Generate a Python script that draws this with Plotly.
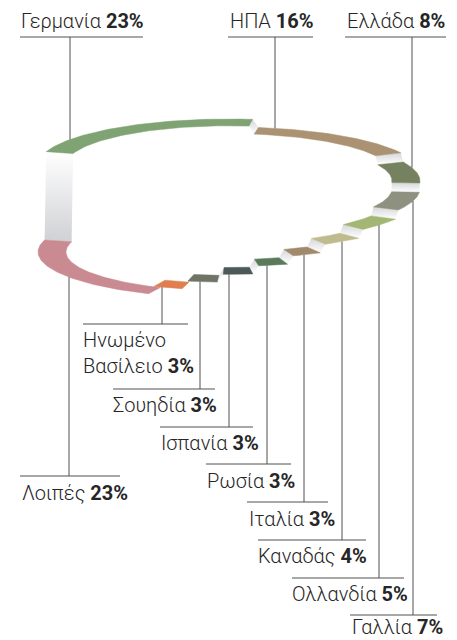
import numpy as np
import plotly.graph_objects as go

# ---------------- data ----------------
countries = ["Γερμανία", "ΗΠΑ", "Ελλάδα", "Γαλλία", "Ολλανδία", "Καναδάς",
             "Ιταλία", "Ρωσία", "Ισπανία", "Σουηδία", "Ηνωμένο Βασίλειο", "Λοιπές"]
shares = [23, 16, 8, 7, 5, 4, 3, 3, 3, 3, 3, 23]
label_names = ["Γερμανία", "ΗΠΑ", "Ελλάδα", "Γαλλία", "Ολλανδία", "Καναδάς",
               "Ιταλία", "Ρωσία", "Ισπανία", "Σουηδία", "Ηνωμένο<br>Βασίλειο", "Λοιπές"]

# ---------------- styles ----------------
colors = ["#80a373", "#ab9273", "#76825f", "#8e9080", "#a3b673", "#bfbb8f",
          "#a08a6b", "#5b7a5c", "#4b5a58", "#6f7467", "#e07e4f", "#c98a92"]

W, H = 457, 640
CX, RX, RY = 229.0, 191.0, 46.0
RX_IN = 163.0
RY_IN = RY * RX_IN / RX
LEVEL_TOP, LEVEL_BOTTOM = 165.0, 252.0
THETA0 = 164.0     # start angle (deg) of the first slice, going clockwise
GAP = 1.8          # angular gap (deg) filled by the step faces
LINE_COLOR = "#505050"
TEXT_COLOR = "#262626"
FONT = "Roboto"
FSIZE = 20

# label layout: leader x, underline x0, x1, underline y, side, text left x, text center y
label_layout = [
    (70, 20, 143, 37, "top", 19, 21),
    (275, 228, 313, 37, "top", 228, 21),
    (412, 345, 446, 37, "top", 345, 21),
    (413, 350, 437, 615, "bottom", 350, 627),
    (379, 292, 404, 578, "bottom", 290, 594),
    (342, 258, 366, 540, "bottom", 256, 556),
    (304, 247, 328, 502, "bottom", 247, 519),
    (267, 206, 291, 464, "bottom", 205, 481),
    (229, 160, 253, 427, "bottom", 159, 443),
    (200, 113, 215, 389, "bottom", 111, 405),
    (162, 83, 188, 324, "bottom", 81, 353),
    (69, 20, 120, 476, "bottom", 20, 493),
]

n = len(shares)
total = float(sum(shares))
cum = np.concatenate([[0.0], np.cumsum(shares)]) / total * 360.0
levels = np.linspace(LEVEL_TOP, LEVEL_BOTTOM, n)


def pt(theta_deg, level, outer=True):
    t = np.radians(theta_deg)
    rx, ry = (RX, RY) if outer else (RX_IN, RY_IN)
    return CX + rx * np.cos(t), level - ry * np.sin(t)


fig = go.Figure()

# step faces (risers) between consecutive slices, incl. the connector back to the top
for i in range(n):
    j = (i + 1) % n
    tb = THETA0 - cum[i + 1]
    a = tb + GAP / 2
    b = tb - GAP / 2
    p1 = pt(a, levels[i], True)
    p2 = pt(a, levels[i], False)
    p3 = pt(b, levels[j], False)
    p4 = pt(b, levels[j], True)
    xs = [p1[0], p2[0], p3[0], p4[0], p1[0]]
    ys = [p1[1], p2[1], p3[1], p4[1], p1[1]]
    if j == 0:
        cs = [[0, "#d0d1d4"], [1, "#ffffff"]]
    else:
        cs = [[0, "#ffffff"], [1, "#d6d7da"]]
    fig.add_trace(go.Scatter(
        x=xs, y=ys, mode="lines", fill="toself", line=dict(width=0),
        fillgradient=dict(type="vertical", colorscale=cs),
        hoverinfo="skip", showlegend=False))

# slices
for i in range(n):
    a = THETA0 - cum[i] - GAP / 2
    b = THETA0 - cum[i + 1] + GAP / 2
    th = np.linspace(a, b, 80)
    ox, oy = pt(th, levels[i], True)
    ix, iy = pt(th[::-1], levels[i], False)
    xs = np.concatenate([ox, ix, ox[:1]])
    ys = np.concatenate([oy, iy, oy[:1]])
    fig.add_trace(go.Scatter(
        x=xs, y=ys, mode="lines", fill="toself", fillcolor=colors[i],
        line=dict(width=0.5, color=colors[i]), hoverinfo="skip", showlegend=False,
        name=countries[i]))

# leader lines, underlines and labels
annotations = []
for i in range(n):
    lx, u0, u1, uy, side, tx, ty = label_layout[i]
    s = np.sqrt(max(0.0, 1 - ((lx - CX) / RX) ** 2))
    if side == "top":
        ey = levels[i] - RY * s
    else:
        ey = levels[i] + RY * s
    fig.add_trace(go.Scatter(x=[lx, lx], y=[uy, ey], mode="lines",
                             line=dict(color=LINE_COLOR, width=1),
                             hoverinfo="skip", showlegend=False))
    fig.add_trace(go.Scatter(x=[u0, u1], y=[uy, uy], mode="lines",
                             line=dict(color=LINE_COLOR, width=1),
                             hoverinfo="skip", showlegend=False))
    annotations.append(dict(
        x=tx, y=ty, xref="x", yref="y", xanchor="left", yanchor="middle",
        align="left", showarrow=False,
        text=f"{label_names[i]} <b>{shares[i]}%</b>",
        font=dict(family=FONT, size=FSIZE, color=TEXT_COLOR, weight=300)))

fig.update_layout(
    width=W, height=H, margin=dict(l=0, r=0, t=0, b=0),
    paper_bgcolor="white", plot_bgcolor="white",
    xaxis=dict(range=[0, W], visible=False, fixedrange=True),
    yaxis=dict(range=[H, 0], visible=False, fixedrange=True),
    annotations=annotations, showlegend=False)

fig.write_html(
    "out.html",
    config={"displayModeBar": False, "staticPlot": True},
    post_script="document.body.style.margin='0';document.body.style.padding='0';"
                "document.body.style.overflow='hidden';")
